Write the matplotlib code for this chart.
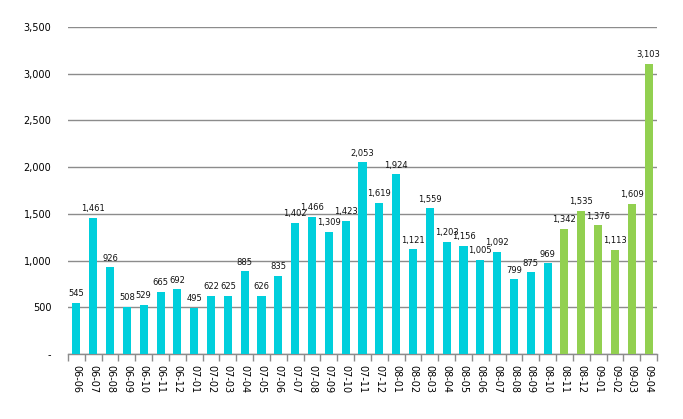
import matplotlib
matplotlib.use("Agg")
import matplotlib.pyplot as plt
from matplotlib.ticker import FuncFormatter, FixedLocator

categories = ["06-06","06-07","06-08","06-09","06-10","06-11","06-12",
              "07-01","07-02","07-03","07-04","07-05","07-06","07-07","07-08","07-09","07-10","07-11","07-12",
              "08-01","08-02","08-03","08-04","08-05","08-06","08-07","08-08","08-09","08-10","08-11","08-12",
              "09-01","09-02","09-03","09-04"]
values = [545,1461,926,508,529,665,692,
          495,622,625,885,626,835,1402,1466,1309,1423,2053,1619,
          1924,1121,1559,1203,1156,1005,1092,799,875,969,1342,1535,
          1376,1113,1609,3103]
green_start = "08-11"

cyan = "#00CFDC"
green = "#92D050"
gi = categories.index(green_start)
colors = [cyan if i < gi else green for i in range(len(values))]

plt.rcParams['font.family'] = ['DejaVu Sans']
fig = plt.figure(figsize=(6.83, 4.19), dpi=100)
ax = fig.add_axes([68/683, 1-354/419, (657-68)/683, (354-27)/419])

x = list(range(len(values)))
ax.bar(x, values, width=0.48, color=colors, zorder=3)
for xi, v in zip(x, values):
    ax.text(xi, v + 50, f"{v:,}", ha='center', va='bottom', fontsize=6, color='#111111', zorder=4)

ax.set_xlim(-0.5, len(values) - 0.5)
ax.set_ylim(0, 3500)
ax.set_yticks(range(0, 3501, 500))
ax.yaxis.set_major_formatter(FuncFormatter(lambda v, p: "-" if v == 0 else f"{int(v):,}"))
ax.grid(axis='y', color='#8c8c8c', linewidth=1, zorder=0)
for s in ['top', 'right', 'left']:
    ax.spines[s].set_visible(False)
ax.spines['bottom'].set_color('#8c8c8c')
ax.spines['bottom'].set_linewidth(1)
ax.tick_params(axis='y', length=0, labelsize=7, pad=12)
ax.set_xticks(x)
ax.set_xticklabels(categories, rotation=-90, fontsize=7)
ax.tick_params(axis='x', length=0, pad=8)
ax.xaxis.set_minor_locator(FixedLocator([i - 0.5 for i in range(len(values) + 1)]))
ax.tick_params(axis='x', which='minor', length=5, color='#8c8c8c', width=1, direction='out')

fig.savefig("out.png", dpi=100)
